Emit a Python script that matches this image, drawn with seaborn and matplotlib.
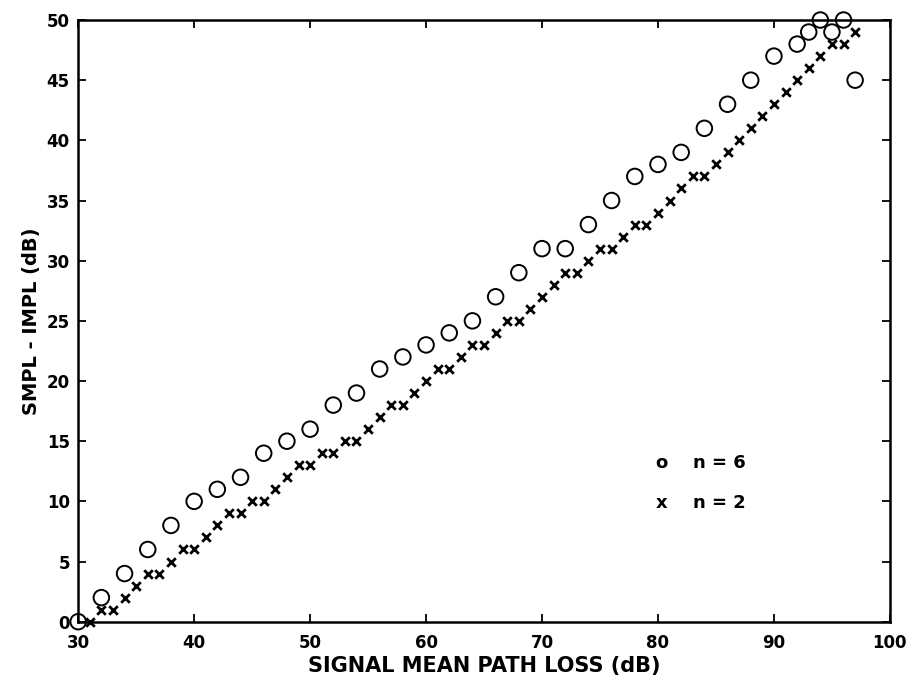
import matplotlib
matplotlib.use("Agg")
import matplotlib.pyplot as plt
import seaborn as sns
import pandas as pd

# n = 6 series (circles)
loss_n6 = [30, 32, 34, 36, 38, 40, 42, 44, 46, 48, 50, 52, 54, 56, 58, 60, 62, 64,
           66, 68, 70, 72, 74, 76, 78, 80, 82, 84, 86, 88, 90, 92, 93, 94, 95, 96, 97]
diff_n6 = [0, 2, 4, 6, 8, 10, 11, 12, 14, 15, 16, 18, 19, 21, 22, 23, 24, 25,
           27, 29, 31, 31, 33, 35, 37, 38, 39, 41, 43, 45, 47, 48, 49, 50, 49, 50, 45]

# n = 2 series (crosses)
loss_n2 = [31, 32, 33, 34, 35, 36, 37, 38, 39, 40, 41, 42, 43, 44, 45, 46, 47, 48,
           49, 50, 51, 52, 53, 54, 55, 56, 57, 58, 59, 60, 61, 62, 63, 64, 65, 66,
           67, 68, 69, 70, 71, 72, 73, 74, 75, 76, 77, 78, 79, 80, 81, 82, 83, 84,
           85, 86, 87, 88, 89, 90, 91, 92, 93, 94, 95, 96, 97]
diff_n2 = [0, 1, 1, 2, 3, 4, 4, 5, 6, 6, 7, 8, 9, 9, 10, 10, 11, 12,
           13, 13, 14, 14, 15, 15, 16, 17, 18, 18, 19, 20, 21, 21, 22, 23, 23, 24,
           25, 25, 26, 27, 28, 29, 29, 30, 31, 31, 32, 33, 33, 34, 35, 36, 37, 37,
           38, 39, 40, 41, 42, 43, 44, 45, 46, 47, 48, 48, 49]

x_ticks = [30, 40, 50, 60, 70, 80, 90, 100]
y_ticks = [0, 5, 10, 15, 20, 25, 30, 35, 40, 45, 50]
legend_labels = ["n = 6", "n = 2"]

sns.set_theme(style="white")
plt.rcParams["font.family"] = ["DejaVu Sans"]
plt.rcParams["font.weight"] = "bold"
plt.rcParams["text.color"] = "black"
plt.rcParams["axes.labelcolor"] = "black"
plt.rcParams["xtick.color"] = "black"
plt.rcParams["ytick.color"] = "black"

fig = plt.figure(figsize=(9.09, 6.90), dpi=100)
ax = fig.add_axes([0.086, 0.099, 0.893, 0.872])

df6 = pd.DataFrame({"loss": loss_n6, "diff": diff_n6})
df2 = pd.DataFrame({"loss": loss_n2, "diff": diff_n2})

sns.scatterplot(data=df6, x="loss", y="diff", marker="o", s=125,
                facecolor="none", edgecolor="black", linewidth=1.4,
                clip_on=False, zorder=3, ax=ax)
sns.scatterplot(data=df2, x="loss", y="diff", marker="x", s=38,
                color="black", linewidth=2.0, clip_on=False, zorder=3, ax=ax)

ax.set_xlim(30, 100)
ax.set_ylim(0, 50)
ax.set_xticks(x_ticks)
ax.set_yticks(y_ticks)
ax.set_xticklabels([str(t) for t in x_ticks], fontsize=12, fontweight="bold")
ax.set_yticklabels([str(t) for t in y_ticks], fontsize=12, fontweight="bold")
ax.tick_params(direction="in", length=6, width=1.3, top=True, right=True,
               bottom=True, left=True, colors="black")
ax.tick_params(axis="x", pad=9)
ax.tick_params(axis="y", pad=6)
for side in ax.spines.values():
    side.set_visible(True)
    side.set_color("black")
    side.set_linewidth(1.8)

ax.set_xlabel("SIGNAL MEAN PATH LOSS (dB)", fontsize=15, fontweight="bold",
              labelpad=3, color="black")
ax.set_ylabel("SMPL - IMPL (dB)", fontsize=14, fontweight="bold",
              labelpad=4, color="black")

# Hand-placed key
ax.text(80.3, 13.2, "o", fontsize=13, fontweight="bold", ha="center", va="center")
ax.text(83.0, 13.2, legend_labels[0], fontsize=13, fontweight="bold", ha="left", va="center")
ax.text(80.3, 9.9, "x", fontsize=13, fontweight="bold", ha="center", va="center")
ax.text(83.0, 9.9, legend_labels[1], fontsize=13, fontweight="bold", ha="left", va="center")

fig.savefig("out.png", dpi=100, facecolor="white")
